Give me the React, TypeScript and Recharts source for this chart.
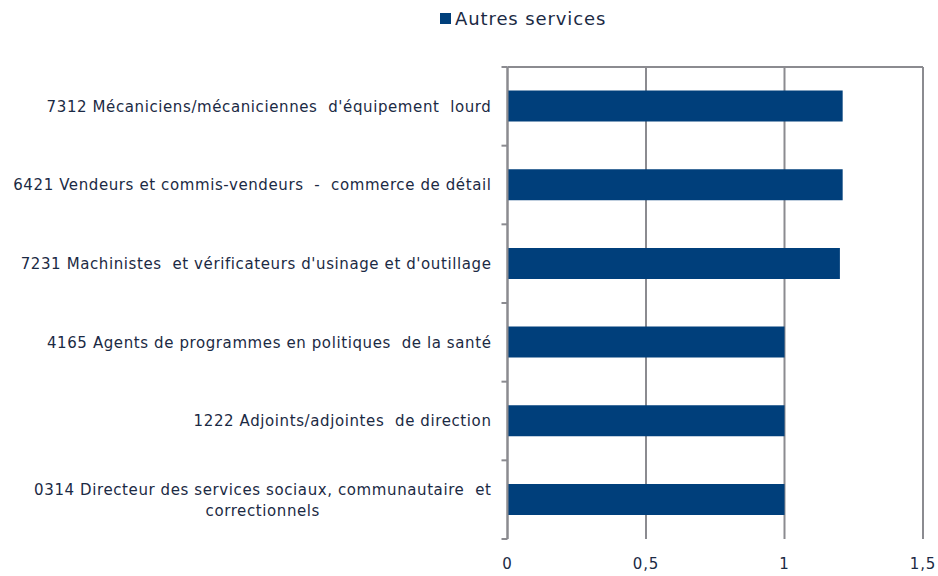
import React, { useLayoutEffect, useRef, useState } from 'react';
import { BarChart, Bar, XAxis, YAxis, CartesianGrid, Legend } from 'recharts';

// occupations, top to bottom
const categories = [
  "7312 Mécaniciens/mécaniciennes  d'équipement  lourd",
  '6421 Vendeurs et commis-vendeurs  -  commerce de détail',
  "7231 Machinistes  et vérificateurs d'usinage et d'outillage",
  '4165 Agents de programmes en politiques  de la santé',
  '1222 Adjoints/adjointes  de direction',
  '0314 Directeur des services sociaux, communautaire  et\ncorrectionnels',
];
const autresServices = [1.21, 1.21, 1.2, 1, 1, 1];
const xTicks = [0, 0.5, 1, 1.5];
const seriesName = 'Autres services';

const data = categories.map((name, i) => ({ name, value: autresServices[i] }));

const TEXT = '#1b2a44';
const GRID = '#8b8b90';
const BAR = '#003f7b';
const FONT = '"DejaVu Sans", Verdana, sans-serif';

const CategoryTick = (props: any) => {
  const { x, y, payload, index, visibleTicksCount } = props;
  const axisX = x + 16;
  const half = payload.offset ?? 39;
  const lines: string[] = String(payload.value).split('\n');
  const firstRef = useRef<SVGTextElement>(null);
  const [w, setW] = useState(0);
  useLayoutEffect(() => {
    if (firstRef.current) setW(firstRef.current.getComputedTextLength());
  }, [payload.value]);
  const lh = 21;
  const y0 = y - ((lines.length - 1) * lh) / 2;
  return (
    <g>
      <line x1={axisX - 6} x2={axisX} y1={y - half} y2={y - half} stroke={GRID} strokeWidth={2} />
      {index === visibleTicksCount - 1 && (
        <line x1={axisX - 6} x2={axisX} y1={y + half} y2={y + half} stroke={GRID} strokeWidth={2} />
      )}
      {lines.map((l, i) => (
        <text
          key={i}
          ref={i === 0 ? firstRef : undefined}
          x={i === 0 ? x : x - w / 2}
          y={y0 + i * lh}
          dy="0.36em"
          textAnchor={i === 0 ? 'end' : 'middle'}
          fill={TEXT}
          fontSize={15}
          fontFamily={FONT}
          letterSpacing={0.6}
          style={{ whiteSpace: 'pre' }}
        >
          {l}
        </text>
      ))}
    </g>
  );
};

const LegendContent = () => (
  <div style={{ height: 30, position: 'relative', fontFamily: FONT }}>
    <div style={{ position: 'absolute', left: 440, top: 8, display: 'flex', alignItems: 'center' }}>
      <span style={{ width: 11, height: 11, background: BAR, display: 'inline-block', marginRight: 4 }} />
      <span style={{ fontSize: 18, color: TEXT, letterSpacing: 0.9 }}>{seriesName}</span>
    </div>
  </div>
);

export default function App() {
  return (
    <div style={{ position: 'fixed', left: 0, top: 0, background: '#fff' }}>
      <BarChart
        width={938}
        height={576}
        data={data}
        layout="vertical"
        margin={{ top: 30, right: 15, bottom: 0, left: 0 }}
        barCategoryGap="30%"
      >
        <Legend verticalAlign="top" content={<LegendContent />} wrapperStyle={{ top: 0, left: 0, width: 938 }} />
        <CartesianGrid horizontal={false} vertical stroke={GRID} strokeWidth={2} />
        <XAxis
          type="number"
          domain={[0, 1.5]}
          ticks={xTicks}
          axisLine={false}
          tickLine={false}
          tickSize={0}
          tickMargin={19}
          height={37}
          tick={{ fill: TEXT, fontSize: 15, fontFamily: FONT, letterSpacing: 0.8 }}
          tickFormatter={(v: number) => String(v).replace('.', ',')}
        />
        <XAxis
          xAxisId="top"
          orientation="top"
          type="number"
          domain={[0, 1.5]}
          ticks={xTicks}
          height={7}
          axisLine={{ stroke: GRID, strokeWidth: 2 }}
          tickLine={{ stroke: GRID, strokeWidth: 2 }}
          tickSize={7}
          tickFormatter={() => ''}
        />
        <YAxis
          type="category"
          dataKey="name"
          width={507.5}
          axisLine={{ stroke: GRID, strokeWidth: 2 }}
          tickLine={false}
          tickSize={6}
          tickMargin={10}
          interval={0}
          tick={<CategoryTick />}
        />
        <Bar dataKey="value" name={seriesName} fill={BAR} isAnimationActive={false} />
      </BarChart>
    </div>
  );
}
